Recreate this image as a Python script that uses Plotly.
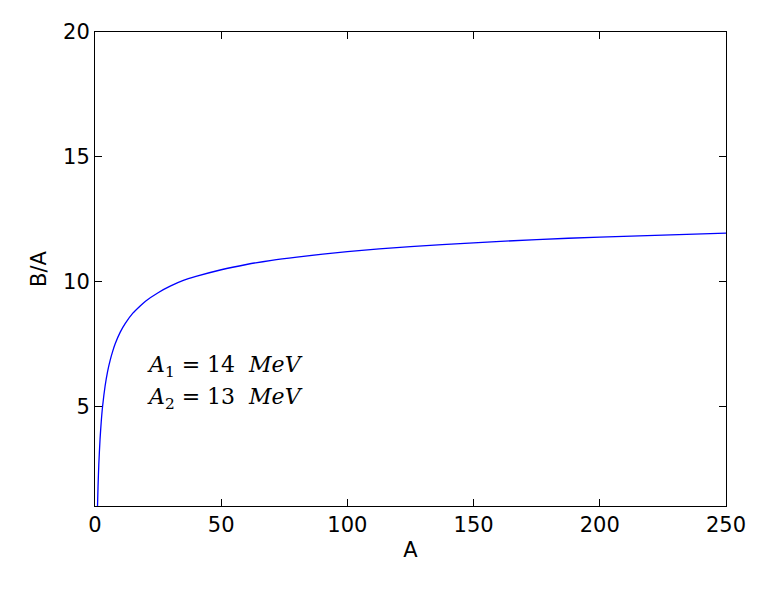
import plotly.graph_objects as go

a_vals = [1, 1.2, 1.5, 2, 2.5, 3, 4, 5, 6, 7, 8, 10, 12, 15, 18, 20, 25, 30, 35, 40, 50, 60, 70, 80, 100, 125, 150, 175, 200, 225, 250]
ba_vals = [1.0, 1.77, 2.65, 3.68, 4.42, 4.99, 5.81, 6.40, 6.84, 7.20, 7.50, 7.97, 8.32, 8.73, 9.03, 9.21, 9.55, 9.82, 10.04, 10.20, 10.47, 10.68, 10.85, 10.98, 11.20, 11.40, 11.55, 11.68, 11.78, 11.86, 11.94]
x_ticks = [0, 50, 100, 150, 200, 250]
y_ticks = [5, 10, 15, 20]

fig = go.Figure(go.Scatter(x=a_vals, y=ba_vals, mode="lines", line=dict(color="#0000ff", width=1.3, shape="spline", smoothing=0.6)))
ax = dict(showgrid=False, zeroline=False, showline=True, linecolor="black", linewidth=1, mirror="ticks",
          ticks="inside", ticklen=7, tickcolor="black", tickfont=dict(size=21, color="black"))
fig.update_xaxes(range=[0, 250], tickvals=x_ticks, title=dict(text="A", font=dict(size=21), standoff=6), **ax)
fig.update_yaxes(range=[1, 20], tickvals=y_ticks, title=dict(text="B/A", font=dict(size=21), standoff=10), **ax)
fnt = dict(family="DejaVu Serif", size=22, color="black")
fig.add_annotation(x=20, y=6.6, xanchor="left", showarrow=False, font=fnt,
                   text="<i>A</i><sub>1</sub> = 14  <i>MeV</i>")
fig.add_annotation(x=20, y=5.3, xanchor="left", showarrow=False, font=fnt,
                   text="<i>A</i><sub>2</sub> = 13  <i>MeV</i>")
fig.update_layout(width=777, height=595, margin=dict(l=87, r=59, t=12, b=97),
                  plot_bgcolor="white", paper_bgcolor="white", showlegend=False,
                  font=dict(family="DejaVu Sans", color="black"))
fig.write_html("out.html")
